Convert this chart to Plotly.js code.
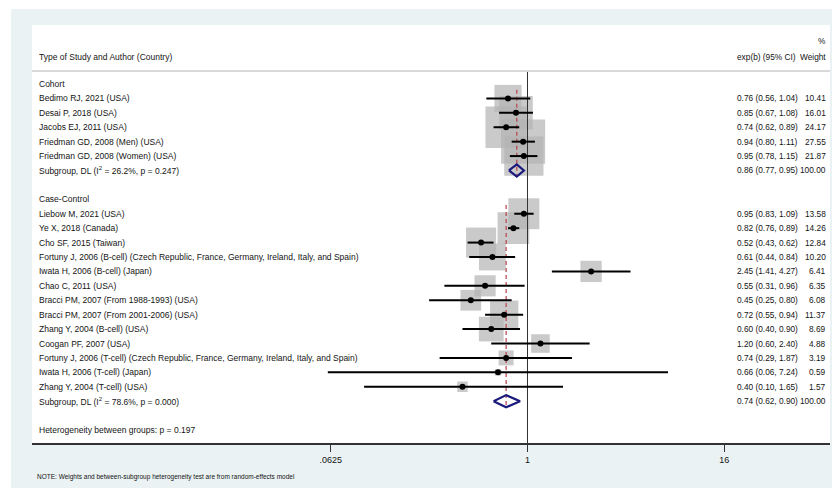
<!DOCTYPE html>
<html>
<head>
<meta charset="utf-8">
<script src="https://cdn.plot.ly/plotly-3.0.1.min.js"></script>
<style>
  html, body { margin: 0; padding: 0; background: #ffffff; }
  #chart { width: 832px; height: 488px; }
</style>
</head>
<body>
<div id="chart"></div>
<script>
// Study-level estimates: exp(b) with 95% CI and random-effects weights (%)
const cohortStudies = [
  "Bedimo RJ, 2021 (USA)",
  "Desai P, 2018 (USA)",
  "Jacobs EJ, 2011 (USA)",
  "Friedman GD, 2008 (Men) (USA)",
  "Friedman GD, 2008 (Women) (USA)"
];
const cohortEst = [0.76, 0.85, 0.74, 0.94, 0.95];
const cohortLo  = [0.56, 0.67, 0.62, 0.80, 0.78];
const cohortHi  = [1.04, 1.08, 0.89, 1.11, 1.15];
const cohortW   = [10.41, 16.01, 24.17, 27.55, 21.87];

const caseStudies = [
  "Liebow M, 2021 (USA)",
  "Ye X, 2018 (Canada)",
  "Cho SF, 2015 (Taiwan)",
  "Fortuny J, 2006 (B-cell) (Czech Republic, France, Germany, Ireland, Italy, and Spain)",
  "Iwata H, 2006 (B-cell) (Japan)",
  "Chao C, 2011 (USA)",
  "Bracci PM, 2007 (From 1988-1993) (USA)",
  "Bracci PM, 2007 (From 2001-2006) (USA)",
  "Zhang Y, 2004 (B-cell) (USA)",
  "Coogan PF, 2007 (USA)",
  "Fortuny J, 2006 (T-cell) (Czech Republic, France, Germany, Ireland, Italy, and Spain)",
  "Iwata H, 2006 (T-cell) (Japan)",
  "Zhang Y, 2004 (T-cell) (USA)"
];
const caseEst = [0.95, 0.82, 0.52, 0.61, 2.45, 0.55, 0.45, 0.72, 0.60, 1.20, 0.74, 0.66, 0.40];
const caseLo  = [0.83, 0.76, 0.43, 0.44, 1.41, 0.31, 0.25, 0.55, 0.40, 0.60, 0.29, 0.06, 0.10];
const caseHi  = [1.09, 0.89, 0.62, 0.84, 4.27, 0.96, 0.80, 0.94, 0.90, 2.40, 1.87, 7.24, 1.65];
const caseW   = [13.58, 14.26, 12.84, 10.20, 6.41, 6.35, 6.08, 11.37, 8.69, 4.88, 3.19, 0.59, 1.57];

// Pooled (DerSimonian-Laird) subgroup estimates
const groupNames  = ["Cohort", "Case-Control"];
const pooledEst   = [0.86, 0.74];
const pooledLo    = [0.77, 0.62];
const pooledHi    = [0.95, 0.90];
const pooledI2    = ["26.2%", "78.6%"];
const pooledP     = ["0.247", "0.000"];
const betweenP    = "0.197";

const tickVals = [0.0625, 1, 16];
const tickText = [".0625", "1", "16"];

// ---- row layout (one row per text line, top to bottom) ----
const FONT = "Liberation Sans, Arial, Helvetica, sans-serif";
const TXT = "#141414";
const FS = 8.5;      // study labels
const FS_R = 8.3;    // numeric columns
const groups = [
  {name: groupNames[0], studies: cohortStudies, est: cohortEst, lo: cohortLo, hi: cohortHi, w: cohortW},
  {name: groupNames[1], studies: caseStudies, est: caseEst, lo: caseLo, hi: caseHi, w: caseW}
];

const fmt = v => v.toFixed(2);
const ciText = (e, l, h) => fmt(e) + " (" + fmt(l) + ", " + fmt(h) + ")";

const annotations = [];
const shapes = [];

function addText(x, y, text, anchor, size) {
  annotations.push({xref: "paper", yref: "y", x: x, y: y, text: text, showarrow: false,
    xanchor: anchor, yanchor: "middle", font: {family: FONT, size: size, color: TXT}});
}
const leftText = (y, t) => addText(0.0063, y, t, "left", FS);
const ciCol = (y, t) => addText(0.8805, y, t, "left", FS_R);
const wCol = (y, t) => addText(0.9975, y, t, "right", FS_R);

// column headers
leftText(-1.87, "Type of Study and Author (Country)");
ciCol(-1.87, "exp(b) (95% CI)");
wCol(-1.87, "Weight");
wCol(-3.0, "%");

let row = 0;
const boxX = [], boxY = [], boxS = [];
const ptX = [], ptY = [], errP = [], errM = [];
const dashX = [], dashY = [];
const diamonds = [];
let nullTop = -0.9, nullBottom = 0;

groups.forEach((g, gi) => {
  leftText(row, g.name);
  row += 1;
  const firstRow = row;
  g.studies.forEach((s, i) => {
    leftText(row, s);
    ciCol(row, ciText(g.est[i], g.lo[i], g.hi[i]));
    wCol(row, fmt(g.w[i]));
    boxX.push(g.est[i]); boxY.push(row); boxS.push(8.4 * Math.sqrt(g.w[i]));
    ptX.push(g.est[i]); ptY.push(row);
    errP.push(g.hi[i] - g.est[i]); errM.push(g.est[i] - g.lo[i]);
    row += 1;
  });
  // pooled subgroup row
  const pr = row;
  leftText(pr, "Subgroup, DL (I<sup>2</sup> = " + pooledI2[gi] + ", p = " + pooledP[gi] + ")");
  ciCol(pr, ciText(pooledEst[gi], pooledLo[gi], pooledHi[gi]));
  wCol(pr, "100.00");
  // dashed line at the subgroup estimate
  dashX.push(pooledEst[gi], pooledEst[gi], null);
  dashY.push(firstRow - 0.6, pr + 0.4, null);
  diamonds.push({
    type: "scatter", mode: "lines", hoverinfo: "skip", showlegend: false,
    x: [pooledLo[gi], pooledEst[gi], pooledHi[gi], pooledEst[gi], pooledLo[gi]],
    y: [pr, pr - 0.42, pr, pr + 0.42, pr],
    line: {color: "#1a1a7e", width: 2.2}
  });
  row += 2;
});
leftText(row, "Heterogeneity between groups: p = " + betweenP);
nullBottom = row + 0.9;

const traces = [
  // weight boxes
  {type: "scatter", mode: "markers", x: boxX, y: boxY, hoverinfo: "skip", showlegend: false,
   marker: {symbol: "square", size: boxS, color: "#b4b4b4", line: {width: 0}}},
  // line of no effect
  {type: "scatter", mode: "lines", x: [1, 1], y: [nullTop, nullBottom], hoverinfo: "skip",
   showlegend: false, line: {color: "#333333", width: 1}},
  // subgroup estimate reference lines
  {type: "scatter", mode: "lines", x: dashX, y: dashY, hoverinfo: "skip", showlegend: false,
   connectgaps: false, line: {color: "#b8434a", width: 1.2, dash: "4px,3px"}},
  // point estimates and confidence intervals
  {type: "scatter", mode: "markers", x: ptX, y: ptY, hoverinfo: "skip", showlegend: false,
   marker: {symbol: "circle", size: 6, color: "#000000"},
   error_x: {type: "data", symmetric: false, array: errP, arrayminus: errM,
     color: "#000000", thickness: 2, width: 0}}
].concat(diamonds);

// header rule
shapes.push({type: "line", xref: "paper", yref: "y", x0: 0, x1: 1, y0: -0.9, y1: -0.9,
  line: {color: "#d9d9d9", width: 2}});
// white outer border (left and top strips)
shapes.push({type: "rect", xref: "paper", yref: "paper", x0: -32/798, x1: -21/798, y0: -45/418, y1: 443/418,
  fillcolor: "#ffffff", line: {width: 0}});
shapes.push({type: "rect", xref: "paper", yref: "paper", x0: -32/798, x1: 1.01, y0: 434/418, y1: 443/418,
  fillcolor: "#ffffff", line: {width: 0}});

// footnote
annotations.push({xref: "paper", yref: "paper", x: 3/798, y: -34/418, text:
  "NOTE: Weights and between-subgroup heterogeneity test are from random-effects model",
  showarrow: false, xanchor: "left", yanchor: "middle", font: {family: FONT, size: 6.5, color: TXT}});

const layout = {
  width: 832, height: 488,
  margin: {l: 32, r: 2, t: 25, b: 45, pad: 0},
  paper_bgcolor: "#eaf2f3",
  plot_bgcolor: "#ffffff",
  showlegend: false,
  xaxis: {
    type: "log",
    range: [-3.032, 1.851],
    tickvals: tickVals, ticktext: tickText,
    ticks: "outside", ticklen: 7, tickwidth: 1.5, tickcolor: "#333333",
    showline: true, linecolor: "#333333", linewidth: 2,
    showgrid: false, zeroline: false,
    tickfont: {family: FONT, size: 9, color: TXT}
  },
  yaxis: {
    range: [24.9, -4.09],
    visible: false, showgrid: false, zeroline: false, fixedrange: true
  },
  annotations: annotations,
  shapes: shapes
};

Plotly.newPlot("chart", traces, layout, {displayModeBar: false, staticPlot: true});
</script>
</body>
</html>
